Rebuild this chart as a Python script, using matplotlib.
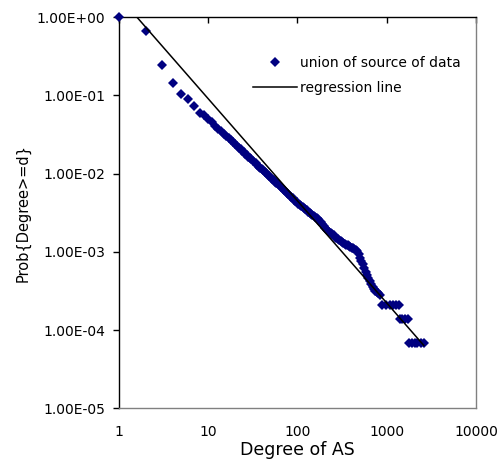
import matplotlib
matplotlib.use("Agg")
from matplotlib import pyplot as plt

# CCDF of AS degree
degree = [1, 2, 3, 4, 5, 6, 7, 8, 9, 10, 11, 12, 13, 14, 15, 16, 17, 18, 19, 20,
          21, 22, 23, 24, 25, 26, 27, 28, 29, 30, 32, 34, 35, 37, 38, 40, 41, 43,
          44, 46, 48, 50, 52, 54, 56, 58, 60, 62, 65, 68, 70, 73, 76, 79, 82,
          85, 88, 92, 95, 98, 102, 106, 110, 114, 118, 122, 127, 132, 137, 142,
          147, 152, 158, 164, 170, 176, 183, 190, 197, 204, 212, 220, 228, 236,
          245, 254, 263, 273, 283, 293, 304, 315, 327, 339, 351, 364, 377, 391,
          405, 420, 435, 451, 467, 484, 502, 520, 540, 560, 580, 600, 623, 645,
          670, 695, 720, 745, 770, 800, 830,
          890, 980, 1080, 1180, 1280, 1370,
          1400, 1500, 1600, 1720,
          1760, 1900, 2050, 2200, 2400, 2600]
prob = [1.0, 0.66, 0.245, 0.144, 0.105, 0.089, 0.073, 0.060, 0.0557, 0.0498,
        0.0450, 0.0410, 0.0376, 0.0347, 0.0323, 0.0301, 0.0282, 0.0265, 0.0251,
        0.0237, 0.0226, 0.0214, 0.0204, 0.0195, 0.0187, 0.0179, 0.0172, 0.0165,
        0.0159, 0.0153, 0.0143, 0.0135, 0.0130, 0.0123, 0.0119, 0.0114, 0.0110,
        0.0105, 0.0102, 0.00975, 0.00929, 0.00890, 0.00851, 0.00818, 0.00787,
        0.00758, 0.00731, 0.00706, 0.00670, 0.00640, 0.00619, 0.00592, 0.00566,
        0.00543, 0.00522, 0.00503, 0.00485, 0.00463, 0.00447, 0.00432, 0.00413,
        0.00397, 0.00382, 0.00371, 0.00361, 0.00350, 0.00338, 0.00327, 0.00316,
        0.00307, 0.00298, 0.00291, 0.00283, 0.00275, 0.00265, 0.00251, 0.00238,
        0.00226, 0.00215, 0.00204, 0.00193, 0.00186, 0.00179, 0.00173, 0.00168,
        0.00162, 0.00157, 0.00152, 0.00147, 0.00143, 0.00139, 0.00135, 0.00131,
        0.00127, 0.00124, 0.00121, 0.00118, 0.00115, 0.00113, 0.00111, 0.00109,
        0.00106, 0.00104, 0.000950, 0.000847, 0.000760, 0.000692, 0.000620,
        0.000558, 0.000505, 0.000460, 0.000420, 0.000384, 0.000355, 0.000333,
        0.000320, 0.000308, 0.000295, 0.000282,
        2.07e-4, 2.07e-4, 2.07e-4, 2.07e-4, 2.07e-4, 2.07e-4,
        1.38e-4, 1.38e-4, 1.38e-4, 1.38e-4,
        6.9e-5, 6.9e-5, 6.9e-5, 6.9e-5, 6.9e-5, 6.9e-5]

# regression line end points
reg_x = [1, 2600]
reg_y = [1.82, 6.4e-5]

xticks = [1, 10, 100, 1000, 10000]
xticklabels = ["1", "10", "100", "1000", "10000"]
yticks = [1e-5, 1e-4, 1e-3, 1e-2, 1e-1, 1]
yticklabels = ["1.00E-05", "1.00E-04", "1.00E-03", "1.00E-02", "1.00E-01", "1.00E+00"]

plt.rcParams['font.family'] = ['DejaVu Sans']

fig = plt.figure(figsize=(5.04, 4.61), dpi=100)
ax = fig.add_axes([0.2361, 0.1139, 0.7083, 0.8492])

ax.plot(degree, prob, linestyle='none', marker='D', markersize=5.4,
        color='#000080', markeredgewidth=0, clip_on=False,
        label='union of source of data', zorder=3)
ax.plot(reg_x, reg_y, color='black', linewidth=1.1, label='regression line',
        zorder=4)

ax.set_xscale('log')
ax.set_yscale('log')
ax.set_xlim(1, 10000)
ax.set_ylim(1e-5, 1)

ax.set_xticks(xticks)
ax.set_xticklabels(xticklabels)
ax.set_yticks(yticks)
ax.set_yticklabels(yticklabels)
ax.minorticks_off()

ax.tick_params(axis='x', direction='in', top=True, bottom=False,
               labelbottom=True, length=4.5, width=1, pad=12, labelsize=10)
ax.tick_params(axis='y', direction='out', left=True, length=4, width=1,
               pad=6, labelsize=10)

ax.spines['left'].set_color('black')
ax.spines['top'].set_color('black')
ax.spines['right'].set_color('#808080')
ax.spines['bottom'].set_color('#808080')
for s in ax.spines.values():
    s.set_linewidth(1.0)

ax.set_xlabel('Degree of AS', fontsize=12.5, labelpad=1.5)
ax.set_ylabel('Prob{Degree>=d}', fontsize=10.5, labelpad=4)

ax.legend(loc='upper left', bbox_to_anchor=(0.375, 0.9), frameon=False,
          fontsize=10, borderpad=0, borderaxespad=0, handlelength=3.2,
          handletextpad=0.2, labelspacing=0.75, markerscale=0.85)

fig.savefig('out.png', dpi=100)
